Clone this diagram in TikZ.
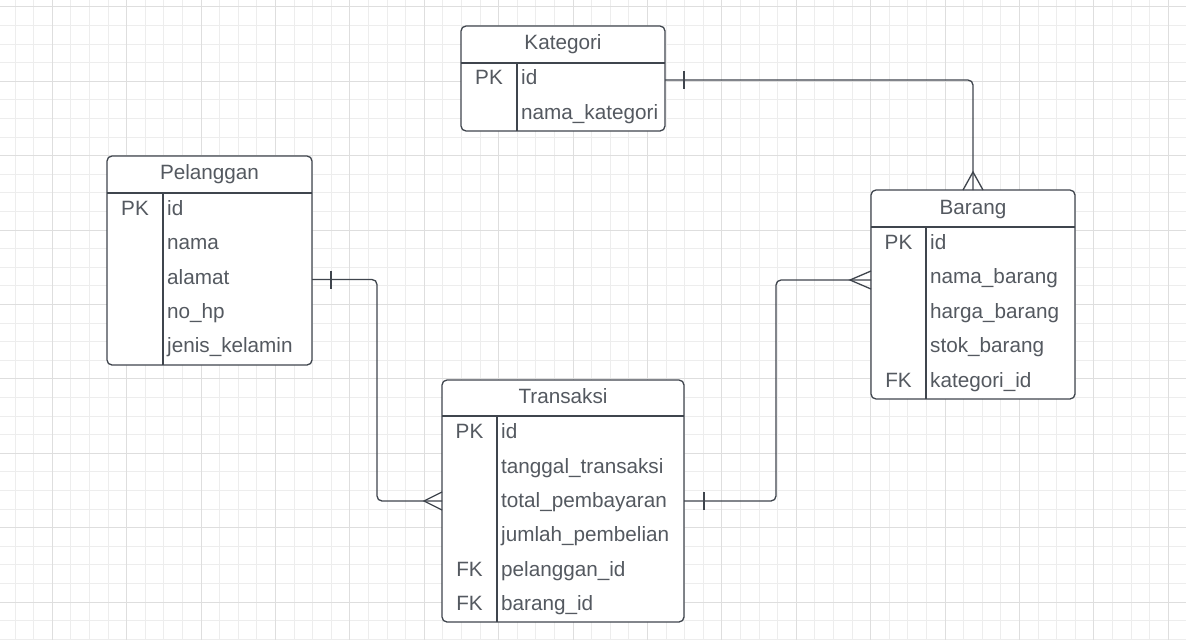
\documentclass[tikz,border=0pt]{standalone}
\usepackage{fontspec}
\setmainfont{Liberation Sans}
\usetikzlibrary{calc}
\definecolor{linec}{HTML}{3F454D}
\definecolor{textc}{HTML}{545960}
\definecolor{gridminor}{HTML}{EDEDED}
\definecolor{gridmajor}{HTML}{DEDEDE}
\begin{document}
\begin{tikzpicture}[x=1pt,y=-1pt,
  tbl/.style={draw=linec, line width=1.3pt, rounded corners=5pt, fill=white, inner sep=0pt, outer sep=0pt},
  sep/.style={draw=linec, line width=1.3pt},
  txt/.style={text=textc, font=\fontsize{20.7}{24}\selectfont, text height=14.8pt, text depth=0pt, inner sep=0pt},
  hdr/.style={txt, anchor=center},
  fld/.style={txt, anchor=west},
  keyc/.style={txt, anchor=center},
  conn/.style={draw=linec, line width=1.3pt, rounded corners=5pt},
  tickm/.style={draw=linec, line width=1.3pt},
  crow/.style={draw=linec, line width=1.3pt, sharp corners}
]
\useasboundingbox (0,0) rectangle (1186,640);
\fill[white] (0,0) rectangle (1186,640);
% grid
\foreach \x in {15.1,33.7,...,1186} \draw[gridminor, line width=1pt] (\x,0) -- (\x,640);
\foreach \y in {6.9,25.5,...,640} \draw[gridminor, line width=1pt] (0,\y) -- (1186,\y);
\foreach \x in {52.3,126.7,...,1186} \draw[gridmajor, line width=1pt] (\x,0) -- (\x,640);
\foreach \y in {6.9,81.3,...,640} \draw[gridmajor, line width=1pt] (0,\y) -- (1186,\y);

% ---- Kategori
\node[tbl, minimum width=204pt, minimum height=105pt] (kat) at (563,78.5) {};
\draw[sep] ($(kat.north west)+(0,37)$) -- ($(kat.north east)+(0,37)$);
\draw[sep] ($(kat.north west)+(56,37)$) -- ($(kat.south west)+(56,0)$);
\node[hdr] (kat-h) at (563,42) {Kategori};
\node[keyc] (kat-k1) at (489,77) {PK};
\node[fld] (kat-f1) at (521,77) {id};
\node[fld] (kat-f2) at (521,112) {nama\_kategori};

% ---- Pelanggan
\node[tbl, minimum width=205pt, minimum height=209pt] (pel) at (209.5,260.5) {};
\draw[sep] ($(pel.north west)+(0,37)$) -- ($(pel.north east)+(0,37)$);
\draw[sep] ($(pel.north west)+(56,37)$) -- ($(pel.south west)+(56,0)$);
\node[hdr] (pel-h) at (209.5,172) {Pelanggan};
\node[keyc] (pel-k1) at (135,208) {PK};
\node[fld] (pel-f1) at (167,208) {id};
\node[fld] (pel-f2) at (167,242) {nama};
\node[fld] (pel-f3) at (167,277) {alamat};
\node[fld] (pel-f4) at (167,311) {no\_hp};
\node[fld] (pel-f5) at (167,345) {jenis\_kelamin};

% ---- Barang
\node[tbl, minimum width=204pt, minimum height=209pt] (bar) at (973,294.5) {};
\draw[sep] ($(bar.north west)+(0,37)$) -- ($(bar.north east)+(0,37)$);
\draw[sep] ($(bar.north west)+(55,37)$) -- ($(bar.south west)+(55,0)$);
\node[hdr] (bar-h) at (973,207) {Barang};
\node[keyc] (bar-k1) at (898.5,242) {PK};
\node[fld] (bar-f1) at (930,242) {id};
\node[fld] (bar-f2) at (930,276) {nama\_barang};
\node[fld] (bar-f3) at (930,311) {harga\_barang};
\node[fld] (bar-f4) at (930,345) {stok\_barang};
\node[keyc] (bar-k5) at (898.5,380) {FK};
\node[fld] (bar-f5) at (930,380) {kategori\_id};

% ---- Transaksi
\node[tbl, minimum width=242pt, minimum height=242pt] (trx) at (563,501) {};
\draw[sep] ($(trx.north west)+(0,36)$) -- ($(trx.north east)+(0,36)$);
\draw[sep] ($(trx.north west)+(55,36)$) -- ($(trx.south west)+(55,0)$);
\node[hdr] (trx-h) at (563,396) {Transaksi};
\node[keyc] (trx-k1) at (469.5,431) {PK};
\node[fld] (trx-f1) at (501,431) {id};
\node[fld] (trx-f2) at (501,466) {tanggal\_transaksi};
\node[fld] (trx-f3) at (501,500) {total\_pembayaran};
\node[fld] (trx-f4) at (501,534) {jumlah\_pembelian};
\node[keyc] (trx-k5) at (469.5,569) {FK};
\node[fld] (trx-f5) at (501,569) {pelanggan\_id};
\node[keyc] (trx-k6) at (469.5,603) {FK};
\node[fld] (trx-f6) at (501,603) {barang\_id};

% ---- connectors
% Kategori -> Barang
\coordinate (katR) at ($(kat.east)+(0,1.5)$);
\draw[conn] (katR) -- (katR -| bar.north) -- (bar.north);
\draw[tickm] ($(katR)+(19,-9)$) -- ($(katR)+(19,9)$);
\draw[crow] ($(bar.north)+(-10,0)$) -- ($(bar.north)+(0,-18)$) -- ($(bar.north)+(10,0)$);

% Pelanggan -> Transaksi
\coordinate (pelR) at ($(pel.east)+(0,19)$);
\draw[conn] (pelR) -- ++(65,0) |- (trx.west);
\draw[tickm] ($(pelR)+(19,-9)$) -- ($(pelR)+(19,9)$);
\draw[crow] ($(trx.west)+(0,-9)$) -- ($(trx.west)+(-18,0)$) -- ($(trx.west)+(0,9)$);

% Transaksi -> Barang
\coordinate (barL) at ($(bar.west)+(0,-14.5)$);
\draw[conn] (trx.east) -- ++(92,0) |- (barL);
\draw[tickm] ($(trx.east)+(20,-9)$) -- ($(trx.east)+(20,9)$);
\draw[crow] ($(barL)+(0,-9)$) -- ($(barL)+(-21,0)$) -- ($(barL)+(0,9)$);
\end{tikzpicture}
\end{document}
